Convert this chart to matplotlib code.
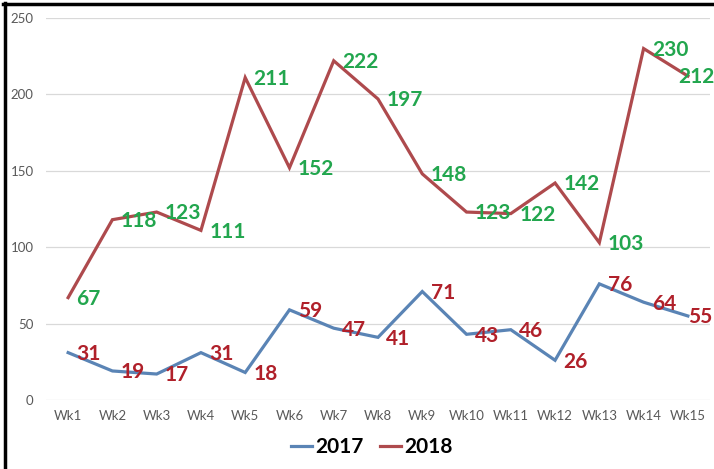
import matplotlib
matplotlib.use("Agg")
import matplotlib.pyplot as plt
from matplotlib.lines import Line2D

weeks = ["Wk1", "Wk2", "Wk3", "Wk4", "Wk5", "Wk6", "Wk7", "Wk8", "Wk9", "Wk10",
         "Wk11", "Wk12", "Wk13", "Wk14", "Wk15"]
y2017 = [31, 19, 17, 31, 18, 59, 47, 41, 71, 43, 46, 26, 76, 64, 55]
y2018 = [67, 118, 123, 111, 211, 152, 222, 197, 148, 123, 122, 142, 103, 230, 212]
yticks = [0, 50, 100, 150, 200, 250]

plt.rcParams['font.family'] = ['Lato', 'DejaVu Sans']

c2017 = "#5A84B5"
c2018 = "#AE4A4D"
lab2017 = "#B0202A"
lab2018 = "#22A64E"

fig = plt.figure(figsize=(7.14, 4.69), dpi=100)
ax = fig.add_axes([46/714, 69/469, (710-46)/714, (400-18)/469])

x = list(range(len(weeks)))
ax.plot(x, y2017, color=c2017, lw=2.3, label="2017", solid_joinstyle='miter')
ax.plot(x, y2018, color=c2018, lw=2.3, label="2018", solid_joinstyle='miter')

n = len(weeks)
for xi, v in zip(x, y2017):
    dx = 6 if xi < n - 1 else 0
    ax.annotate(str(v), (xi, v), xytext=(dx, -1), textcoords='offset points',
                ha='left', va='center', color=lab2017, fontsize=15, fontweight='bold',
                annotation_clip=False)
for xi, v in zip(x, y2018):
    dx = 6 if xi < n - 1 else -7
    ax.annotate(str(v), (xi, v), xytext=(dx, -1), textcoords='offset points',
                ha='left', va='center', color=lab2018, fontsize=15, fontweight='bold',
                annotation_clip=False)

ax.set_xlim(-0.5, len(weeks) - 0.5)
ax.set_ylim(0, 250)
ax.set_yticks(yticks)
ax.set_xticks(x)
ax.set_xticklabels(weeks)
ax.grid(axis='y', color='#D9D9D9', lw=0.9)
ax.set_axisbelow(True)
for s in ax.spines.values():
    s.set_visible(False)
ax.tick_params(axis='both', length=0, colors='#595959', labelsize=9.5)
ax.tick_params(axis='y', pad=9)
ax.tick_params(axis='x', pad=7)

leg = fig.legend(loc='center', bbox_to_anchor=(372/714, 1 - 447/469), ncol=2,
                 frameon=False, handlelength=1.0, handletextpad=0.15,
                 columnspacing=0.8,
                 prop={'family': ['Lato', 'DejaVu Sans'], 'weight': 'bold', 'size': 15})

# black frame on top and left
fig.add_artist(Line2D([3/714, 1], [1 - 4.5/469, 1 - 4.5/469], color='black', lw=2.5,
                      transform=fig.transFigure))
fig.add_artist(Line2D([4.5/714, 4.5/714], [0, 1 - 3/469], color='black', lw=2.5,
                      transform=fig.transFigure))

fig.savefig("out.png", dpi=100)
